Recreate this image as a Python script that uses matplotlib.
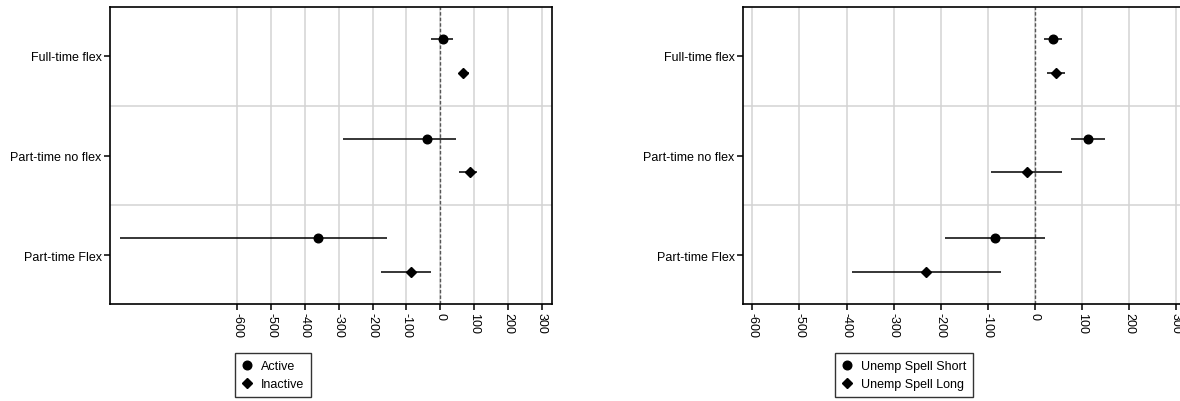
import matplotlib
matplotlib.use("Agg")
import matplotlib.pyplot as plt
from matplotlib.lines import Line2D

plt.rcParams['font.family'] = ['Liberation Sans', 'DejaVu Sans']

categories = ["Full-time flex", "Part-time no flex", "Part-time Flex"]

# Left panel: Active / Inactive
left_labels = ["Active", "Inactive"]
act_est = [7, -39, -360]
act_lo = [-28, -287, -947]
act_hi = [37, 47, -158]
ina_est = [67, 87, -87]
ina_lo = [54, 54, -174]
ina_hi = [85, 108, -28]

# Right panel: Unemp spell short / long
right_labels = ["Unemp Spell Short", "Unemp Spell Long"]
sho_est = [38, 113, -84]
sho_lo = [19, 77, -191]
sho_hi = [59, 150, 22]
lon_est = [46, -17, -231]
lon_lo = [27, -92, -389]
lon_hi = [65, 57, -72]

xticks = [-600, -500, -400, -300, -200, -100, 0, 100, 200, 300]

W, H = 1180, 402
fig = plt.figure(figsize=(W / 100, H / 100), dpi=100)


def px_axes(x0, y0, x1, y1):
    return fig.add_axes([x0 / W, 1 - y1 / H, (x1 - x0) / W, (y1 - y0) / H])


def panel(ax, series, labels, xlim, legend_box):
    offs = [-0.17, 0.17]
    markers = [("o", 6.2), ("D", 5.4)]
    handles = []
    for (est, lo, hi), off, (m, ms), lab in zip(series, offs, markers, labels):
        ys = [i + off for i in range(len(categories))]
        ax.hlines(ys, lo, hi, color="black", lw=1.1, zorder=3)
        ax.plot(est, ys, linestyle="none", marker=m, ms=ms, color="black", zorder=4)
        handles.append(Line2D([], [], linestyle="none", marker=m, ms=ms, color="black", label=lab))
    ax.axvline(0, color="#555555", lw=1.0, ls=(0, (2.5, 1.5)), zorder=2)
    ax.set_xlim(*xlim)
    ax.set_ylim(2.49, -0.49)
    ax.set_yticks(range(len(categories)))
    ax.set_yticklabels(categories, fontsize=9)
    ax.set_yticks([0.5, 1.5], minor=True)
    ax.tick_params(axis="y", which="minor", length=0)
    ax.set_xticks(xticks)
    ax.set_xticklabels([str(t) for t in xticks], rotation=270, fontsize=9)
    ax.tick_params(axis="both", which="major", length=4, width=1.1, color="black", pad=2)
    ax.grid(True, axis="x", which="major", color="#d3d3d3", lw=1.1, zorder=0)
    ax.grid(True, axis="y", which="minor", color="#d3d3d3", lw=1.1, zorder=0)
    ax.set_axisbelow(True)
    for s in ax.spines.values():
        s.set_linewidth(1.2)
        s.set_color("black")
    bx0, by0, bx1, by1 = legend_box
    leg = fig.legend(handles=handles, loc="upper left",
                     bbox_to_anchor=(bx0 / W, 1 - by0 / H),
                     fontsize=9, frameon=True, fancybox=False, edgecolor="black",
                     handlelength=0.8, handletextpad=0.7, borderpad=0.55,
                     labelspacing=0.5, borderaxespad=0)
    leg.get_frame().set_linewidth(1.0)


axL = px_axes(110, 8, 552, 305)
panel(axL, [(act_est, act_lo, act_hi), (ina_est, ina_lo, ina_hi)], left_labels,
      (-976, 330), (235, 354, 311, 399))

axR = px_axes(743, 8, 1190, 305)
panel(axR, [(sho_est, sho_lo, sho_hi), (lon_est, lon_lo, lon_hi)], right_labels,
      (-620, 330), (835, 354, 977, 399))

fig.savefig("out.png", dpi=100)
